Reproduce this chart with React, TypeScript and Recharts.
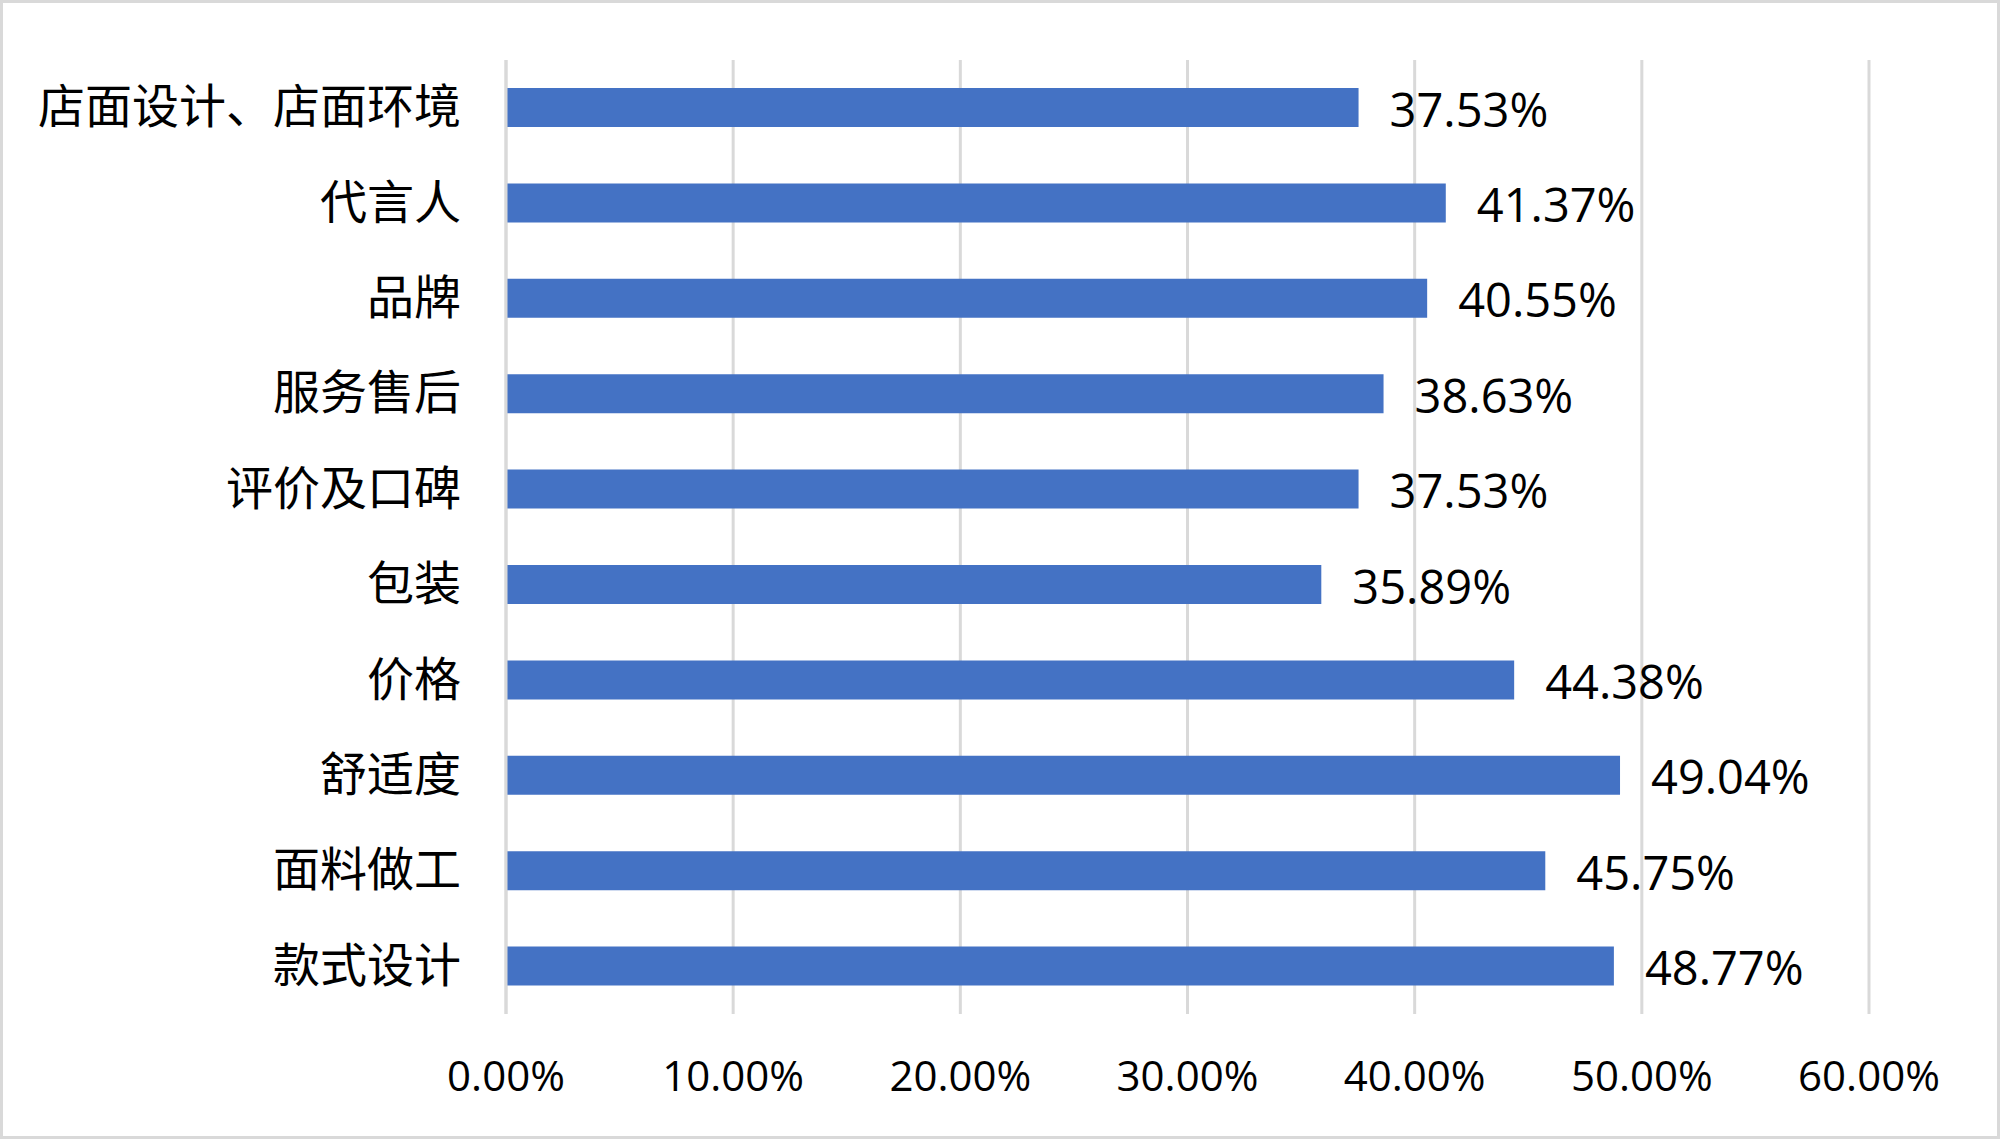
import React from "react";
import { BarChart, Bar, XAxis, YAxis, CartesianGrid, LabelList } from "recharts";

const categories = [
  "店面设计、店面环境",
  "代言人",
  "品牌",
  "服务售后",
  "评价及口碑",
  "包装",
  "价格",
  "舒适度",
  "面料做工",
  "款式设计",
];
const values = [37.53, 41.37, 40.55, 38.63, 37.53, 35.89, 44.38, 49.04, 45.75, 48.77];
const xTicks = [0, 10, 20, 30, 40, 50, 60];

const data = categories.map((name, i) => ({ name, value: values[i] }));

const fmt = (v: number) => `${Number(v).toFixed(2)}%`;

const XTick = (props: any) => {
  const { x, y, payload } = props;
  return (
    <text
      x={x}
      y={y + 60}
      textAnchor="middle"
      dominantBaseline="central"
      fontFamily="'Open Sans', sans-serif"
      fontSize={42}
      fill="#000"
    >
      {fmt(payload.value)}
    </text>
  );
};

const YTick = (props: any) => {
  const { x, y, payload } = props;
  return (
    <text
      x={x - 45}
      y={y - 5}
      textAnchor="end"
      dominantBaseline="central"
      fontFamily="'Noto Sans CJK SC', sans-serif"
      fontSize={47}
      fill="#000"
    >
      {payload.value}
    </text>
  );
};

const DataLabel = (props: any) => {
  const { x, y, width, height, value } = props;
  return (
    <text
      x={x + width + 31}
      y={y + height / 2 + 1}
      textAnchor="start"
      dominantBaseline="central"
      fontFamily="'Open Sans', sans-serif"
      fontSize={47}
      fill="#000"
    >
      {fmt(value)}
    </text>
  );
};

export default function App() {
  return (
    <div
      style={{
        position: "absolute",
        left: 0,
        top: 0,
        width: 2000,
        height: 1139,
        background: "#fff",
        border: "3px solid #d9d9d9",
        boxSizing: "border-box",
      }}
    >
      <div style={{ position: "absolute", left: -3, top: -3 }}>
        <BarChart
          width={2000}
          height={1139}
          data={data}
          layout="vertical"
          margin={{ top: 60, right: 131, bottom: 25, left: 0 }}
        >
          <CartesianGrid horizontal={false} vertical stroke="#d9d9d9" strokeWidth={3} />
          <XAxis
            type="number"
            domain={[0, 60]}
            ticks={xTicks}
            interval={0}
            height={100}
            tickLine={false}
            axisLine={false}
            tickSize={0}
            tickMargin={0}
            tick={<XTick />}
          />
          <YAxis
            type="category"
            dataKey="name"
            width={506}
            tickLine={false}
            tickSize={0}
            tickMargin={0}
            axisLine={{ stroke: "#d9d9d9", strokeWidth: 3 }}
            interval={0}
            tick={<YTick />}
          />
          <Bar dataKey="value" fill="#4472C4" barSize={39} isAnimationActive={false}>
            <LabelList dataKey="value" content={<DataLabel />} />
          </Bar>
        </BarChart>
      </div>
    </div>
  );
}
